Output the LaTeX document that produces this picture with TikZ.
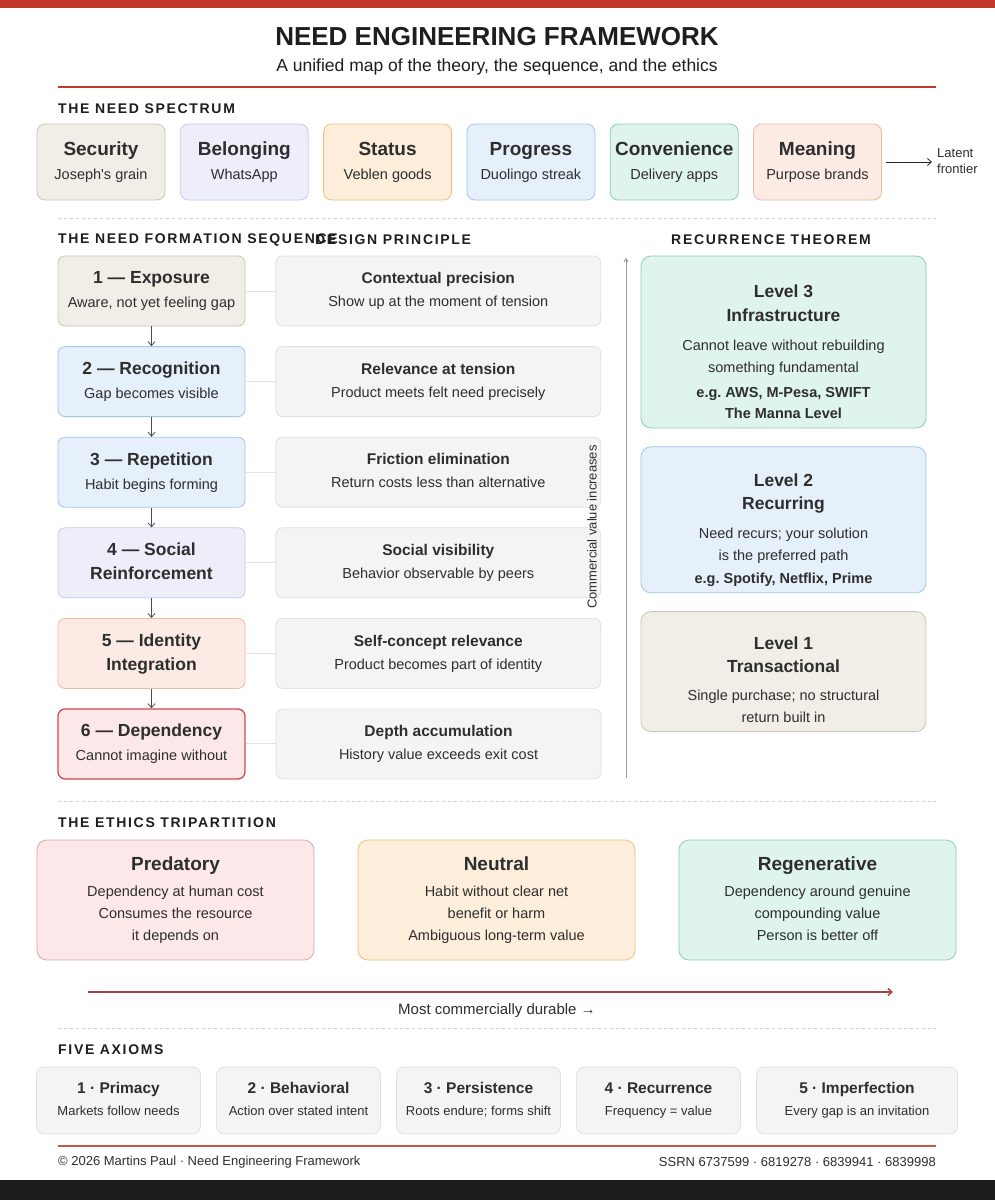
\documentclass[tikz,border=0pt]{standalone}
\usepackage{fontspec}
\setmainfont{Liberation Sans}
\newfontfamily\spacedfont{Liberation Sans}[LetterSpace=12]
\usepackage{tikz}
\usetikzlibrary{positioning, arrows.meta}
\frenchspacing

\definecolor{brandred}{HTML}{C0392B}
\definecolor{ink}{HTML}{1E1E1E}
\definecolor{bodyink}{HTML}{2E2E2E}
\definecolor{rulegray}{HTML}{CFCFCF}
\definecolor{tanfill}{HTML}{F1EEE8}   \definecolor{tandraw}{HTML}{CCC5BA}
\definecolor{lilacfill}{HTML}{EEEEFB} \definecolor{lilacdraw}{HTML}{CAC8EE}
\definecolor{peachfill}{HTML}{FCEEDB} \definecolor{peachdraw}{HTML}{F0C07E}
\definecolor{bluefill}{HTML}{E6F0FB}  \definecolor{bluedraw}{HTML}{A3C5EA}
\definecolor{mintfill}{HTML}{DFF4EC}  \definecolor{mintdraw}{HTML}{8ACEB4}
\definecolor{salmonfill}{HTML}{FCEBE4}\definecolor{salmondraw}{HTML}{F0BAA8}
\definecolor{pinkfill}{HTML}{FCE8E9}  \definecolor{pinkdraw}{HTML}{E3A3A8}
\definecolor{depdraw}{HTML}{D2494B}
\definecolor{grayfill}{HTML}{F4F4F4}  \definecolor{graydraw}{HTML}{E1E1E1}
\definecolor{durable}{HTML}{A84545}

\newcommand{\cardhead}[2]{{\bfseries\fontsize{#1}{22}\selectfont #2}}

\tikzset{
x=1pt, y=-1pt, % one unit is one pixel, y runs downwards
>={Straight Barb[length=4pt,width=7pt]}, % open arrow heads
node distance=15pt, % gap between neighbouring cards
every node/.style={text=bodyink, inner sep=0pt},
card/.style={draw, line width=0.8pt, rounded corners=8pt, align=center, text depth=3pt, font=\fontsize{14.5}{24}\selectfont}, % base of every box
need/.style={card, minimum width=128pt, minimum height=76pt},
stage/.style={card, rounded corners=7pt, minimum width=187pt, minimum height=70pt},
principle/.style={stage, minimum width=325pt, fill=grayfill, draw=graydraw, font=\fontsize{14.5}{23}\selectfont},
level/.style={card, rounded corners=10pt, minimum width=285pt},
leveltext/.style={align=center, font=\fontsize{14.5}{22}\selectfont},
ethic/.style={card, rounded corners=10pt, minimum width=277pt, minimum height=120pt, font=\fontsize{14.5}{22}\selectfont},
axiom/.style={card, minimum width=164pt, minimum height=67pt, fill=grayfill, draw=graydraw, font=\fontsize{13}{22}\selectfont},
section/.style={anchor=west, text=ink, font=\spacedfont\bfseries\fontsize{14}{14}\selectfont},
divider/.style={rulegray, line width=0.8pt, dash pattern=on 3pt off 3pt},
flow/.style={->, draw=black!70, line width=0.8pt},
link/.style={draw=graydraw, line width=1pt},
tan/.style={fill=tanfill, draw=tandraw},
lilac/.style={fill=lilacfill, draw=lilacdraw},
peach/.style={fill=peachfill, draw=peachdraw},
blue/.style={fill=bluefill, draw=bluedraw},
mint/.style={fill=mintfill, draw=mintdraw},
salmon/.style={fill=salmonfill, draw=salmondraw},
pink/.style={fill=pinkfill, draw=pinkdraw},
}

\begin{document}
\begin{tikzpicture}
\useasboundingbox (0,0) rectangle (995,1200);
\fill[white] (0,0) rectangle (995,1200);
\fill[brandred] (0,0) rectangle (995,8);
\fill[black!89] (0,1180) rectangle (995,1200);

% header
\node[text=ink, font=\bfseries\fontsize{26}{26}\selectfont] (title) at (497,37) {NEED ENGINEERING FRAMEWORK};
\node[text=ink, font=\fontsize{17.5}{18}\selectfont] (subtitle) at (497,67) {A unified map of the theory, the sequence, and the ethics};
\draw[brandred, line width=1.5pt] (58,87) -- (936,87);

% need spectrum
\node[section] (spectrum) at (58,109) {THE NEED SPECTRUM};
\node[need, tan] (security) at (101,162) {\cardhead{19}{Security}\\Joseph\textquotesingle s grain};
\node[need, lilac, right=14.5pt of security] (belonging) {\cardhead{19}{Belonging}\\WhatsApp};
\node[need, peach, right=14.5pt of belonging] (status) {\cardhead{19}{Status}\\Veblen goods};
\node[need, blue, right=14.5pt of status] (progress) {\cardhead{19}{Progress}\\Duolingo streak};
\node[need, mint, right=14.5pt of progress] (convenience) {\cardhead{19}{Convenience}\\Delivery apps};
\node[need, salmon, right=14.5pt of convenience] (meaning) {\cardhead{19}{Meaning}\\Purpose brands};
\node[anchor=west, align=left, font=\fontsize{13}{16}\selectfont] (frontier) at (937,161) {Latent\\frontier};
\draw[->, black!85, line width=0.8pt, shorten >=5pt] ([xshift=4pt]meaning.east) -- (frontier.west |- meaning.east);

\draw[divider] (58,218) -- (936,218);

% formation sequence and design principles
\node[section] (sequence) at (58,240) {THE NEED FORMATION SEQUENCE};
\node[section] (design) at (315,240) {DESIGN PRINCIPLE};
\node[stage, tan] (s1) at (151.5,291) {\cardhead{17.5}{1 — Exposure}\\Aware, not yet feeling gap};
\node[stage, blue, below=19.8pt of s1] (s2) {\cardhead{17.5}{2 — Recognition}\\Gap becomes visible};
\node[stage, blue, below=19.8pt of s2] (s3) {\cardhead{17.5}{3 — Repetition}\\Habit begins forming};
\node[stage, lilac, below=19.8pt of s3] (s4) {\cardhead{17.5}{4 — Social}\\\cardhead{17.5}{Reinforcement}};
\node[stage, salmon, below=19.8pt of s4] (s5) {\cardhead{17.5}{5 — Identity}\\\cardhead{17.5}{Integration}};
\node[stage, fill=pinkfill, draw=depdraw, line width=1.3pt, below=19.5pt of s5] (s6) {\cardhead{17.5}{6 — Dependency}\\Cannot imagine without};

\node[principle, right=30pt of s1] (p1) {\cardhead{15.5}{Contextual precision}\\Show up at the moment of tension};
\node[principle, right=30pt of s2] (p2) {\cardhead{15.5}{Relevance at tension}\\Product meets felt need precisely};
\node[principle, right=30pt of s3] (p3) {\cardhead{15.5}{Friction elimination}\\Return costs less than alternative};
\node[principle, right=30pt of s4] (p4) {\cardhead{15.5}{Social visibility}\\Behavior observable by peers};
\node[principle, right=30pt of s5] (p5) {\cardhead{15.5}{Self-concept relevance}\\Product becomes part of identity};
\node[principle, right=30pt of s6] (p6) {\cardhead{15.5}{Depth accumulation}\\History value exceeds exit cost};

\draw[flow]
(s1) edge (s2)
(s2) edge (s3)
(s3) edge (s4)
(s4) edge (s5)
(s5) edge (s6);

\draw[link]
(s1) edge (p1)
(s2) edge (p2)
(s3) edge (p3)
(s4) edge (p4)
(s5) edge (p5)
(s6) edge (p6);

\node[rotate=90, font=\fontsize{13}{13}\selectfont] (climb) at (592,527) {Commercial value increases};

% recurrence theorem
\node[section, anchor=center] (recurrence) at (771,240) {RECURRENCE THEOREM};
\coordinate (axisbot) at (626,778);
\coordinate (axistop) at (626,258);
\draw[-{Straight Barb[length=3pt,width=4pt]}, black!40, line width=1pt] (axisbot) -- (axistop);

\node[level, mint, minimum height=172pt] (lv3) at (783.5,342) {};
\node[level, blue, minimum height=146pt, below=18pt of lv3] (lv2) {};
\node[level, tan, minimum height=120pt, below=18pt of lv2] (lv1) {};
\node[leveltext] (lv3t) at ([yshift=-10pt]lv3.center) {\cardhead{17.5}{Level 3}\\[2pt]\cardhead{17.5}{Infrastructure}\\[7pt]Cannot leave without rebuilding\\something fundamental\\[3pt]\textbf{e.g. AWS, M-Pesa, SWIFT}\\[-1pt]\textbf{The Manna Level}};
\node[leveltext] (lv2t) at ([yshift=-10.5pt]lv2.center) {\cardhead{17.5}{Level 2}\\[1pt]\cardhead{17.5}{Recurring}\\[7pt]Need recurs; your solution\\is the preferred path\\[1pt]\textbf{e.g. Spotify, Netflix, Prime}};
\node[leveltext] (lv1t) at ([yshift=-8pt]lv1.center) {\cardhead{17.5}{Level 1}\\[1pt]\cardhead{17.5}{Transactional}\\[6pt]Single purchase; no structural\\return built in};

\draw[divider] (58,801) -- (936,801);

% ethics tripartition
\node[section] (ethics) at (58,823) {THE ETHICS TRIPARTITION};
\node[ethic, pink] (predatory) at (175.5,900) {\cardhead{19}{Predatory}\\[4pt]Dependency at human cost\\Consumes the resource\\it depends on};
\node[ethic, peach, right=43.2pt of predatory] (neutral) {\cardhead{19}{Neutral}\\[4pt]Habit without clear net\\benefit or harm\\Ambiguous long-term value};
\node[ethic, mint, right=43.2pt of neutral] (regenerative) {\cardhead{19}{Regenerative}\\[4pt]Dependency around genuine\\compounding value\\Person is better off};

\coordinate (durstart) at (88,992);
\coordinate (durend) at (893,992);
\draw[->, durable, line width=1.5pt] (durstart) -- (durend);
\node[font=\fontsize{15}{15}\selectfont] (durlabel) at (497,1011) {Most commercially durable →};

\draw[divider] (58,1028) -- (936,1028);

% five axioms
\node[section] (axioms) at (58,1050) {FIVE AXIOMS};
\node[axiom] (a1) at (118.5,1100.5) {\cardhead{15.5}{1 · Primacy}\\Markets follow needs};
\node[axiom, right=15.2pt of a1] (a2) {\cardhead{15.5}{2 · Behavioral}\\Action over stated intent};
\node[axiom, right=15.2pt of a2] (a3) {\cardhead{15.5}{3 · Persistence}\\Roots endure; forms shift};
\node[axiom, right=15.2pt of a3] (a4) {\cardhead{15.5}{4 · Recurrence}\\Frequency = value};
\node[axiom, minimum width=201pt, right=15.2pt of a4] (a5) {\cardhead{15.5}{5 · Imperfection}\\Every gap is an invitation};

% footer
\draw[brandred!85, line width=1.5pt] (58,1146) -- (936,1146);
\node[anchor=west, font=\fontsize{13}{13}\selectfont] (credit) at (58,1162) {© 2026 Martins Paul · Need Engineering Framework};
\node[anchor=east, font=\fontsize{13}{13}\selectfont] (ssrn) at (936,1162) {SSRN 6737599 · 6819278 · 6839941 · 6839998};
\end{tikzpicture}
\end{document}
